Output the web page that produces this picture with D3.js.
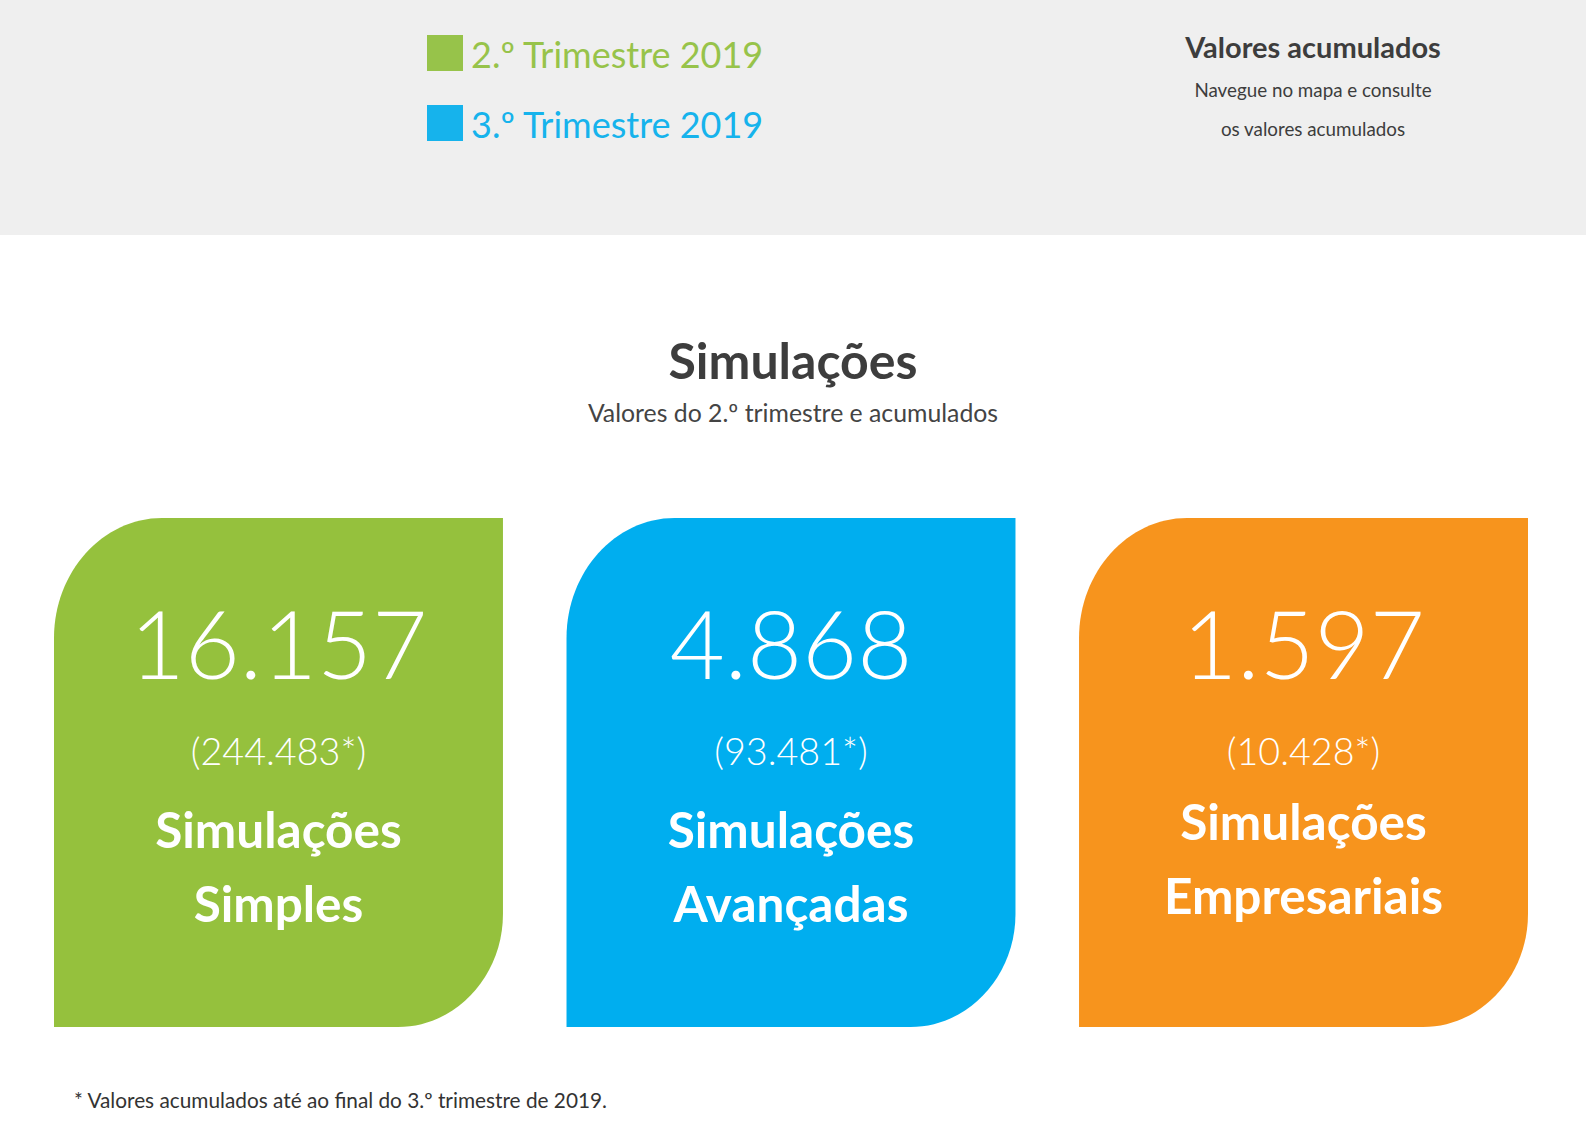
<!DOCTYPE html>
<html>
<head>
<meta charset="utf-8">
<script src="https://cdn.jsdelivr.net/npm/d3@7"></script>
<style>
  body { margin: 0; background: #fff; }
  svg { display: block; font-family: Lato, "Noto Sans", sans-serif; }
</style>
</head>
<body>
<svg id="chart" width="1586" height="1146"></svg>
<script>
// Data
var categories = ["Simples", "Avançadas", "Empresariais"];
var quarterValues = [16157, 4868, 1597];
var cumulativeValues = [244483, 93481, 10428];
var cardColors = ["#95c13d", "#00aeef", "#f7941d"];
var legendLabels = ["2.º Trimestre 2019", "3.º Trimestre 2019"];
var legendColors = ["#97c34a", "#16b3ec"];

var svg = d3.select("#chart"),
    width = +svg.attr("width"),
    height = +svg.attr("height");

// Portuguese number format: 16.157
var pt = d3.formatLocale({ decimal: ",", thousands: ".", grouping: [3], currency: ["", " €"] });
var fmt = pt.format(",d");

// Top grey band
svg.append("rect")
    .attr("width", width)
    .attr("height", 235)
    .attr("fill", "#efefef");

// Legend
var legendY = d3.scaleBand().domain(legendLabels).range([35, 175]).paddingInner(0);
var legend = svg.selectAll(".legend")
    .data(legendLabels)
    .enter().append("g")
    .attr("transform", function(d) { return "translate(427," + legendY(d) + ")"; });
legend.append("rect")
    .attr("width", 36)
    .attr("height", 36)
    .attr("fill", function(d, i) { return legendColors[i]; });
legend.append("text")
    .attr("x", 44)
    .attr("y", 33)
    .attr("font-size", 36)
    .attr("fill", function(d, i) { return legendColors[i]; })
    .text(function(d) { return d; });

// Right info block
var info = svg.append("g").attr("text-anchor", "middle").attr("fill", "#3d3d3d");
info.append("text").attr("x", 1313).attr("y", 58)
    .attr("font-size", 29).attr("font-weight", 700).text("Valores acumulados");
info.append("text").attr("x", 1313).attr("y", 97)
    .attr("font-size", 18.8).text("Navegue no mapa e consulte");
info.append("text").attr("x", 1313).attr("y", 136)
    .attr("font-size", 18.8).text("os valores acumulados");

// Title
svg.append("text")
    .attr("x", width / 2).attr("y", 379)
    .attr("text-anchor", "middle")
    .attr("font-size", 50).attr("font-weight", 700)
    .attr("fill", "#3d3d3d")
    .text("Simulações");
svg.append("text")
    .attr("x", width / 2).attr("y", 422)
    .attr("text-anchor", "middle")
    .attr("font-size", 24.8)
    .attr("fill", "#444")
    .text("Valores do 2.º trimestre e acumulados");

// Cards
var x = d3.scaleBand()
    .domain(categories)
    .range([54, 1528])
    .paddingInner(0.124);

var cardTop = 518, cardBottom = 1027;

function cardPath(x0, x1, y0, y1) {
  var rx1 = 108, ry1 = 120, rx2 = 105, ry2 = 113;
  var p = d3.path();
  p.moveTo(x0 + rx1, y0);
  p.lineTo(x1, y0);
  p.lineTo(x1, y1 - ry2);
  p.bezierCurveTo(x1, y1 - ry2 * 0.45, x1 - rx2 * 0.45, y1, x1 - rx2, y1);
  p.lineTo(x0, y1);
  p.lineTo(x0, y0 + ry1);
  p.bezierCurveTo(x0, y0 + ry1 * 0.45, x0 + rx1 * 0.45, y0, x0 + rx1, y0);
  p.closePath();
  return p.toString();
}

var cards = svg.selectAll(".card")
    .data(categories)
    .enter().append("g")
    .attr("class", "card");

cards.append("path")
    .attr("d", function(d) { return cardPath(x(d), x(d) + x.bandwidth(), cardTop, cardBottom); })
    .attr("fill", function(d, i) { return cardColors[i]; });

var cx = function(d) { return x(d) + x.bandwidth() / 2; };

cards.append("text")
    .attr("x", cx).attr("y", 679)
    .attr("text-anchor", "middle")
    .attr("font-size", 95).attr("font-weight", 300)
    .attr("fill", "#fff")
    .text(function(d, i) { return fmt(quarterValues[i]); });

cards.append("text")
    .attr("x", cx).attr("y", 765)
    .attr("text-anchor", "middle")
    .attr("font-size", 37.7).attr("font-weight", 300)
    .attr("fill", "#fff")
    .text(function(d, i) { return "(" + fmt(cumulativeValues[i]) + "*)"; });

// Orange card label sits slightly higher in the original
var labelShift = [0, 0, -8];
cards.append("text")
    .attr("x", cx).attr("y", function(d, i) { return 848 + labelShift[i]; })
    .attr("text-anchor", "middle")
    .attr("font-size", 49.5).attr("font-weight", 700)
    .attr("fill", "#fff")
    .text("Simulações");
cards.append("text")
    .attr("x", cx).attr("y", function(d, i) { return 922 + labelShift[i]; })
    .attr("text-anchor", "middle")
    .attr("font-size", 49.5).attr("font-weight", 700)
    .attr("fill", "#fff")
    .text(function(d) { return d; });

// Footnote
svg.append("text")
    .attr("x", 74).attr("y", 1108)
    .attr("font-size", 20.8)
    .attr("fill", "#333")
    .text("* Valores acumulados até ao final do 3.º trimestre de 2019.");
</script>
</body>
</html>
